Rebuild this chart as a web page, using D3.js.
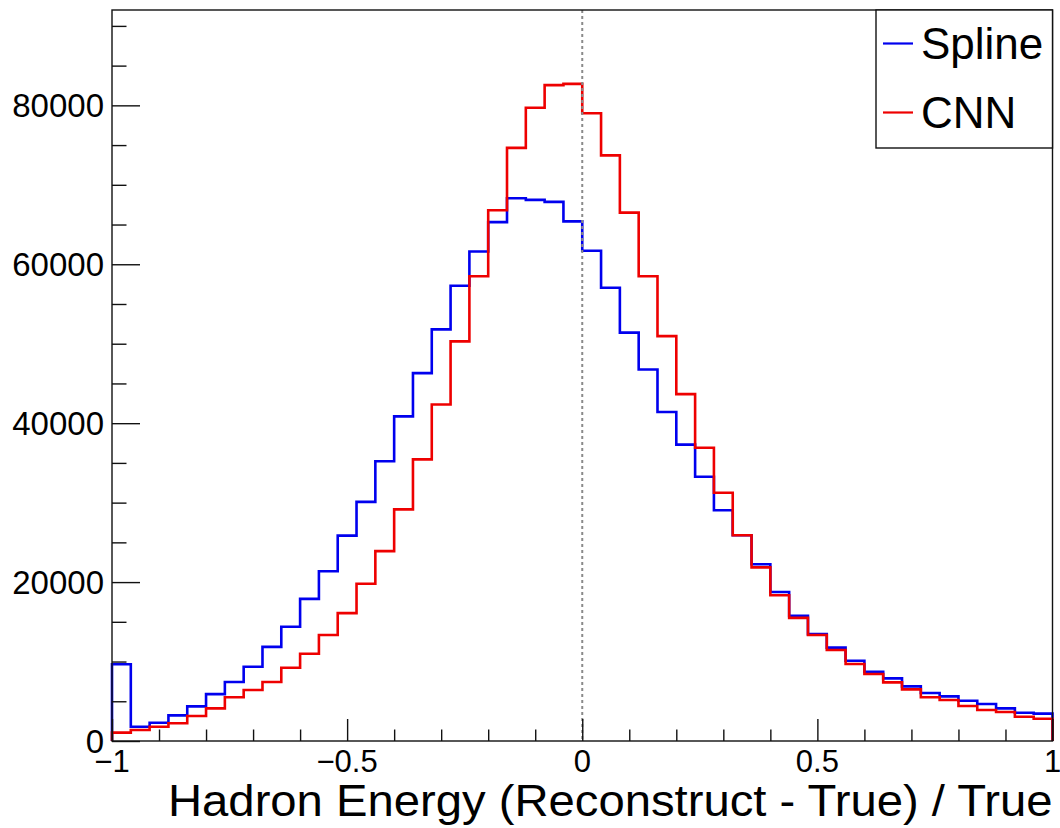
<!DOCTYPE html>
<html>
<head>
<meta charset="utf-8">
<script src="https://cdn.jsdelivr.net/npm/d3@7"></script>
<style>
  html, body { margin: 0; padding: 0; background: #fff; }
  svg { display: block; }
  text { font-family: "Liberation Sans", Arial, Helvetica, sans-serif; fill: #000; }
</style>
</head>
<body>
<svg id="chart" width="1060" height="828"></svg>
<script>
// ---- data ----
const binEdges = d3.range(51).map(i => -1 + i * 0.04);
const splineValues = [9650, 1800, 2300, 3230, 4360, 5900, 7420, 9340, 11850, 14370,
  17890, 21370, 25850, 30100, 35200, 40850, 46300, 51800, 57300, 61600,
  65300, 68300, 68100, 67850, 65400, 61700, 57050, 51400, 46750, 41400,
  37300, 33250, 29050, 25900, 22250, 18750, 15750, 13450, 11750, 10100,
  8700, 7880, 6880, 6040, 5620, 5070, 4650, 4110, 3560, 3440];
const cnnValues = [1050, 1380, 1800, 2230, 3150, 4100, 5500, 6420, 7420, 9220,
  10990, 13340, 16100, 19800, 23900, 29150, 35450, 42350, 50300, 58500,
  66800, 74650, 79700, 82550, 82700, 79000, 73700, 66500, 58500, 50950,
  43650, 36900, 31250, 25900, 21850, 18350, 15500, 13350, 11450, 9700,
  8430, 7380, 6500, 5500, 5160, 4400, 3900, 3650, 3060, 2800];
const seriesNames = ["Spline", "CNN"];
const seriesColors = ["#0000ee", "#ee0000"];
const xMajorTicks = [-1, -0.5, 0, 0.5, 1];
const xTickLabels = ["\u22121", "\u22120.5", "0", "0.5", "1"];
const yMajorTicks = [0, 20000, 40000, 60000, 80000];
const yTickLabels = ["0", "20000", "40000", "60000", "80000"];
const xTitle = "Hadron Energy (Reconstruct - True) / True";
const yMax = 92000;

// ---- layout ----
const L = 112, R = 1052.5, T = 10, B = 741;
const svg = d3.select("#chart");
const x = d3.scaleLinear().domain([-1, 1]).range([L, R]);
const y = d3.scaleLinear().domain([0, yMax]).range([B, T]);

// histogram step paths
function stepPath(vals) {
  const p = d3.path();
  p.moveTo(x(binEdges[0]), y(0));
  vals.forEach((v, i) => {
    p.lineTo(x(binEdges[i]), y(v));
    p.lineTo(x(binEdges[i + 1]), y(v));
  });
  p.lineTo(x(binEdges[vals.length]), y(0));
  return p.toString();
}
[splineValues, cnnValues].forEach((vals, k) => {
  svg.append("path").attr("d", stepPath(vals))
    .attr("fill", "none").attr("stroke", seriesColors[k])
    .attr("stroke-width", 2.6).attr("stroke-linejoin", "miter");
});

// dashed zero line
svg.append("line").attr("x1", x(0)).attr("x2", x(0)).attr("y1", T).attr("y2", B)
  .attr("stroke", "#8a8a8a").attr("stroke-width", 2).attr("stroke-dasharray", "3,3");

// frame
svg.append("rect").attr("x", L).attr("y", T).attr("width", R - L).attr("height", B - T)
  .attr("fill", "none").attr("stroke", "#111").attr("stroke-width", 1.4);

// x axis ticks
const xAxis = d3.axisBottom(x).tickValues(d3.range(21).map(i => -1 + i * 0.1))
  .tickSize(0).tickFormat("");
const gx = svg.append("g").attr("transform", `translate(0,${B})`).call(xAxis);
gx.select(".domain").remove();
gx.selectAll(".tick").append("line")
  .attr("y1", 0)
  .attr("y2", d => (Math.abs(Math.round(d * 10)) % 5 === 0) ? -22 : -11.5)
  .attr("stroke", "#111").attr("stroke-width", 1.4);
xMajorTicks.forEach((v, i) => {
  svg.append("text").attr("x", x(v)).attr("y", 772)
    .attr("text-anchor", "middle").attr("font-size", 31).text(xTickLabels[i]);
});

// y axis ticks
const yAxis = d3.axisLeft(y).tickValues(d3.range(0, 90001, 5000)).tickSize(0).tickFormat("");
const gy = svg.append("g").attr("transform", `translate(${L},0)`).call(yAxis);
gy.select(".domain").remove();
gy.selectAll(".tick").append("line")
  .attr("x1", 0)
  .attr("x2", d => (d % 20000 === 0) ? 28 : 14.5)
  .attr("stroke", "#111").attr("stroke-width", 1.4);
yMajorTicks.forEach((v, i) => {
  svg.append("text").attr("x", 104).attr("y", y(v)).attr("dy", "0.36em")
    .attr("text-anchor", "end").attr("font-size", 33).text(yTickLabels[i]);
});

// x title
svg.append("text").attr("x", 168).attr("y", 816)
  .attr("font-size", 45).attr("textLength", R - 168).attr("lengthAdjust", "spacingAndGlyphs")
  .text(xTitle);

// legend
const lgL = 876, lgT = T, lgR = R, lgB = 148;
svg.append("rect").attr("x", lgL).attr("y", lgT).attr("width", lgR - lgL).attr("height", lgB - lgT)
  .attr("fill", "#fff").attr("stroke", "#111").attr("stroke-width", 1.4);
const lgY = [43.5, 112.5];
seriesNames.forEach((n, k) => {
  svg.append("line").attr("x1", 883).attr("x2", 913).attr("y1", lgY[k]).attr("y2", lgY[k])
    .attr("stroke", seriesColors[k]).attr("stroke-width", 2.2);
  svg.append("text").attr("x", 921).attr("y", lgY[k]).attr("dy", "0.36em")
    .attr("font-size", 44).text(n);
});
</script>
</body>
</html>
